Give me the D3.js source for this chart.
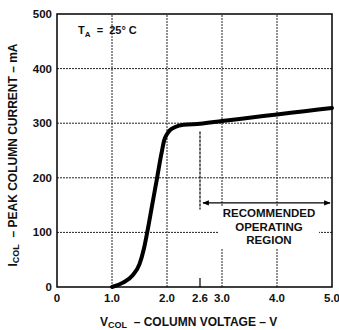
<!DOCTYPE html>
<html><head><meta charset="utf-8">
<script src="https://cdn.jsdelivr.net/npm/d3@7"></script>
<style>
body{margin:0;background:#fff;}
svg{display:block;font-family:"Liberation Sans",Arial,sans-serif;}
</style></head><body>
<svg id="c" width="339" height="330"></svg>
<script>
const voltage = [1.0, 1.2, 1.38, 1.5, 1.58, 1.64, 1.73, 1.82, 1.9, 1.95, 2.0, 2.05, 2.15, 2.3, 2.6, 3.0, 3.5, 4.0, 4.5, 5.0];
const current = [0, 8, 22, 42, 70, 100, 150, 200, 245, 269, 280, 287, 293, 297, 299, 304, 310, 316, 322, 328];
const xTicks = [0, 1.0, 2.0, 2.6, 3.0, 4.0, 5.0];
const xTickLabels = ["0", "1.0", "2.0", "2.6", "3.0", "4.0", "5.0"];
const yTicks = [0, 100, 200, 300, 400, 500];
const xGrid = [1, 2, 3, 4];
const yGrid = [100, 200, 300, 400];
const recommendedStart = 2.6, recommendedEnd = 5.0;
const NB = "\u00a0";

const svg = d3.select("#c");
const x = d3.scaleLinear().domain([0, 5]).range([57, 332]);
const y = d3.scaleLinear().domain([0, 500]).range([287, 14]);

const g = svg.append("g");
// grid
g.selectAll(".gx").data(xGrid).enter().append("line")
  .attr("x1", d => x(d)).attr("x2", d => x(d)).attr("y1", y(0)).attr("y2", y(500))
  .attr("stroke", "#222").attr("stroke-width", 1).attr("stroke-dasharray", "2,1");
g.selectAll(".gy").data(yGrid).enter().append("line")
  .attr("x1", x(0)).attr("x2", x(5)).attr("y1", d => y(d)).attr("y2", d => y(d))
  .attr("stroke", "#222").attr("stroke-width", 1).attr("stroke-dasharray", "2,1");

// white box behind annotation text
g.append("rect").attr("x", 219).attr("y", 206).attr("width", 100).attr("height", 42).attr("fill", "#fff");

// frame
g.append("rect").attr("x", x(0)).attr("y", y(500)).attr("width", x(5) - x(0)).attr("height", y(0) - y(500))
  .attr("fill", "none").attr("stroke", "#000").attr("stroke-width", 1.5);

// 2.6 tick at bottom
g.append("line").attr("x1", x(2.6)).attr("x2", x(2.6)).attr("y1", y(0)).attr("y2", y(0) - 9)
  .attr("stroke", "#000").attr("stroke-width", 1.2);
// 2.6 marker line
g.append("line").attr("x1", x(2.6)).attr("x2", x(2.6)).attr("y1", y(285)).attr("y2", y(142))
  .attr("stroke", "#000").attr("stroke-width", 1.2).attr("stroke-dasharray", "3,1");

// arrow
const defs = svg.append("defs");
defs.append("marker").attr("id", "ah").attr("viewBox", "0 0 10 10").attr("refX", 9).attr("refY", 5)
  .attr("markerWidth", 7).attr("markerHeight", 5).attr("orient", "auto-start-reverse")
  .append("path").attr("d", "M0,1L10,5L0,9Z").attr("fill", "#000");
g.append("line").attr("x1", x(recommendedStart) + 3).attr("x2", x(recommendedEnd) - 2)
  .attr("y1", y(154)).attr("y2", y(154))
  .attr("stroke", "#000").attr("stroke-width", 1.3)
  .attr("marker-start", "url(#ah)").attr("marker-end", "url(#ah)");

// annotation text
const ann = ["RECOMMENDED", "OPERATING", "REGION"];
g.selectAll(".ann").data(ann).enter().append("text")
  .attr("x", 269).attr("y", (d, i) => 217 + i * 13.5).attr("text-anchor", "middle")
  .attr("font-size", 11.5).attr("font-weight", "bold").attr("fill", "#111").text(d => d);

// curve
const pts = voltage.map((v, i) => [v, current[i]]);
g.append("path").datum(pts)
  .attr("d", d3.line().x(d => x(d[0])).y(d => y(d[1])).curve(d3.curveMonotoneX))
  .attr("fill", "none").attr("stroke", "#000").attr("stroke-width", 4).attr("stroke-linecap", "round");

// y tick labels
g.selectAll(".yl").data(yTicks).enter().append("text")
  .attr("x", 52).attr("y", d => y(d) + 4).attr("text-anchor", "end")
  .attr("font-size", 11.5).attr("font-weight", "bold").attr("fill", "#111").text(d => d);
// x tick labels
g.selectAll(".xl").data(xTicks).enter().append("text")
  .attr("x", d => x(d)).attr("y", 302).attr("text-anchor", "middle")
  .attr("font-size", 11.5).attr("font-weight", "bold").attr("fill", "#111")
  .text((d, i) => xTickLabels[i]);

// TA label
const ta = g.append("text").attr("x", 78).attr("y", 34).attr("font-size", 11).attr("font-weight", "bold").attr("fill", "#111");
ta.append("tspan").text("T");
ta.append("tspan").attr("font-size", 8).attr("dy", 3).text("A");
ta.append("tspan").attr("dy", -3).text(NB + NB + "=" + NB + NB + "25° C");

// x title
const xt = g.append("text").attr("x", 100).attr("y", 326).attr("font-size", 12).attr("font-weight", "bold").attr("fill", "#111");
xt.append("tspan").text("V");
xt.append("tspan").attr("font-size", 9).attr("dy", 2).text("COL");
xt.append("tspan").attr("dy", -2).text(NB + NB + "–" + NB + "COLUMN VOLTAGE" + NB + "–" + NB + "V");

// y title
const yt = g.append("text").attr("transform", "translate(17,155) rotate(-90)").attr("text-anchor", "middle")
  .attr("font-size", 12).attr("font-weight", "bold").attr("fill", "#111");
yt.append("tspan").text("I");
yt.append("tspan").attr("font-size", 9).attr("dy", 2).text("COL");
yt.append("tspan").attr("dy", -2).text(NB + NB + "–" + NB + "PEAK COLUMN CURRENT" + NB + "–" + NB + "mA");
</script>
</body></html>
